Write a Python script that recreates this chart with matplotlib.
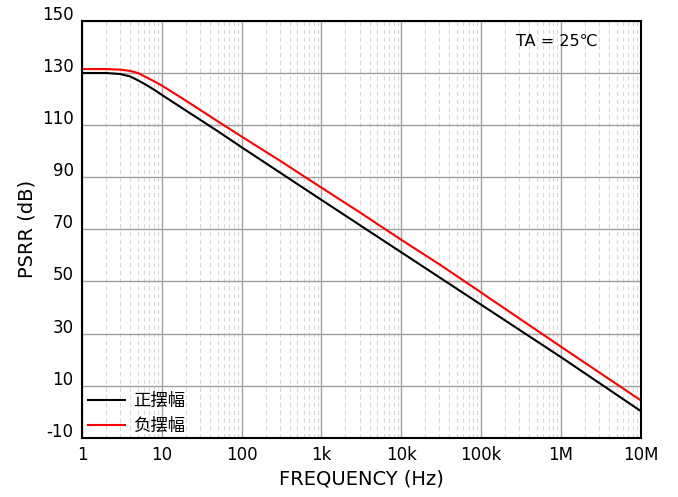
import matplotlib.pyplot as plt
import matplotlib.transforms as mtransforms
from matplotlib.ticker import LogLocator, FixedLocator, NullFormatter

plt.rcParams['font.family'] = ['DejaVu Sans', 'Noto Sans CJK SC']
plt.rcParams['axes.unicode_minus'] = False

# data
freq_pos = [1, 2, 3, 4, 5, 6, 8, 10, 20, 50, 100, 1e3, 1e4, 1e5, 1e6, 1e7]
psrr_pos = [130, 130, 129.6, 128.7, 127.2, 125.9, 123.6, 121.6, 115.6, 107.7,
            101.5, 81.3, 61.2, 41.1, 21, 0.3]
freq_neg = [1, 2, 3, 4, 5, 6, 8, 10, 15, 20, 30, 50, 100, 300, 1e3, 3e3,
            1e4, 3e4, 1e5, 1.3e5, 1e6, 1e7]
psrr_neg = [131.5, 131.5, 131.3, 130.8, 130.0, 128.8, 126.8, 125.2, 121.8, 119.4,
            115.9, 111.5, 105.6, 96.4, 86.0, 76.6, 66.0, 56.6, 45.8, 43.4, 25.0, 4.4]

labels = ['正摆幅', '负摆幅']
x_ticks = [1, 10, 100, 1e3, 1e4, 1e5, 1e6, 1e7]
x_ticklabels = ['1', '10', '100', '1k', '10k', '100k', '1M', '10M']
y_ticks = [-10, 10, 30, 50, 70, 90, 110, 130, 150]

fig = plt.figure(figsize=(6.78, 4.97), dpi=100)
ax = fig.add_axes([0.121, 0.119, 0.824, 0.839])

ax.plot(freq_pos, psrr_pos, color='black', lw=1.5, label=labels[0])
ax.plot(freq_neg, psrr_neg, color='red', lw=1.5, label=labels[1])

ax.set_xscale('log')
ax.set_xlim(1, 1e7)
ax.set_ylim(-10, 150)
ax.set_xticks(x_ticks)
ax.set_xticklabels(x_ticklabels)
ax.xaxis.set_minor_locator(LogLocator(base=10, subs=range(2, 10), numticks=20))
ax.xaxis.set_minor_formatter(NullFormatter())
ax.yaxis.set_major_locator(FixedLocator(y_ticks))
ax.tick_params(axis='both', which='both', length=0, labelsize=12, pad=6)

# y labels sit a little above their grid lines in the reference
offset = mtransforms.ScaledTranslation(0, 8 / 100, fig.dpi_scale_trans)
for lbl in ax.get_yticklabels():
    lbl.set_transform(lbl.get_transform() + offset)

ax.grid(which='major', color='#a0a0a0', lw=1, ls='-')
ax.grid(which='minor', axis='x', color='#d8d8d8', lw=0.8, ls=(0, (4, 3)))
ax.set_axisbelow(True)
for s in ax.spines.values():
    s.set_linewidth(1.5)

ax.set_xlabel('FREQUENCY (Hz)', fontsize=14)
ax.set_ylabel('PSRR (dB)', fontsize=14)

ax.text(0.85, 0.97, 'TA = 25℃', transform=ax.transAxes, ha='center', va='top',
        fontsize=11.5, family=['DejaVu Sans', 'Noto Sans CJK SC'])

leg = ax.legend(loc='lower left', bbox_to_anchor=(-0.007, -0.017), frameon=False,
                handlelength=2.15, handletextpad=0.45, labelspacing=0.45, borderaxespad=0.15,
                prop={'family': ['Noto Sans CJK SC', 'DejaVu Sans'], 'size': 12.5})

fig.savefig('out.png', dpi=100)
